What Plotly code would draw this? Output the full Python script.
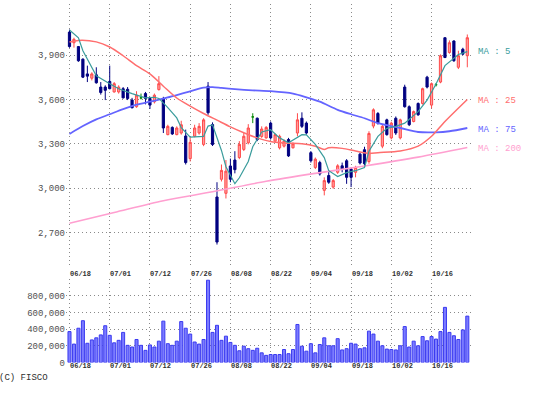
import plotly.graph_objects as go

W, H = 539, 398

# ---------------- data ----------------
tick_idx = [0, 9, 18, 27, 36, 45, 54, 63, 72, 81]
tick_labels = ["06/18", "07/01", "07/12", "07/26", "08/08", "08/22", "09/04", "09/18", "10/02", "10/16"]

opens = [4056, 3984, 3958, 3873, 3773, 3744, 3767, 3684, 3684, 3722,
         3651, 3651, 3673, 3669, 3596, 3551, 3611, 3640, 3607, 3584,
         3667, 3607, 3362, 3411, 3362, 3373, 3353, 3200, 3351, 3373,
         3296, 3690, 3430, 2940, 3060, 2965, 3150, 3190, 3207, 3262,
         3307, 3482, 3473, 3350, 3340, 3440, 3318, 3273, 3284, 3329,
         3273, 3373, 3473, 3440, 3240, 3140, 3173, 2985, 3085, 3007,
         3107, 3151, 3185, 3129, 3107, 3230, 3260, 3180, 3420, 3505,
         3284, 3462, 3340, 3473, 3340, 3684, 3551, 3451, 3573, 3573,
         3751, 3562, 3700, 3718, 4018, 3918, 3996, 3818, 3940, 3896]
highs = [4073, 4018, 3962, 3878, 3829, 3784, 3818, 3718, 3696, 3829,
         3718, 3696, 3684, 3684, 3611, 3656, 3640, 3651, 3618, 3640,
         3758, 3618, 3429, 3418, 3418, 3456, 3396, 3345, 3429, 3440,
         3473, 3718, 3445, 3040, 3160, 3190, 3200, 3250, 3318, 3373,
         3433, 3507, 3478, 3418, 3420, 3451, 3370, 3362, 3330, 3340,
         3310, 3507, 3513, 3451, 3251, 3207, 3185, 3073, 3113, 3062,
         3162, 3173, 3196, 3140, 3151, 3240, 3280, 3385, 3540, 3515,
         3430, 3470, 3450, 3485, 3470, 3700, 3560, 3525, 3580, 3680,
         3760, 3715, 3712, 3905, 4020, 4000, 4000, 3930, 3950, 4040]
lows = [3950, 3951, 3855, 3745, 3718, 3729, 3707, 3633, 3596, 3669,
        3647, 3640, 3607, 3596, 3540, 3544, 3600, 3567, 3536, 3573,
        3660, 3373, 3358, 3360, 3358, 3362, 3160, 3180, 3344, 3362,
        3284, 3496, 3285, 2618, 3045, 2930, 3040, 3100, 3196, 3251,
        3296, 3440, 3318, 3340, 3335, 3329, 3310, 3262, 3275, 3211,
        3268, 3351, 3407, 3362, 3173, 3129, 3085, 2951, 3029, 2996,
        3096, 3107, 3029, 3007, 3073, 3160, 3150, 3165, 3405, 3430,
        3270, 3355, 3330, 3360, 3330, 3545, 3420, 3445, 3490, 3565,
        3675, 3540, 3688, 3710, 3880, 3910, 3855, 3806, 3900, 3818]
closes = [3958, 4007, 3862, 3751, 3758, 3773, 3713, 3647, 3662, 3673,
          3707, 3684, 3611, 3607, 3544, 3629, 3611, 3607, 3562, 3629,
          3707, 3407, 3418, 3367, 3407, 3429, 3173, 3310, 3407, 3418,
          3462, 3510, 3295, 2635, 3120, 3115, 3060, 3125, 3296, 3351,
          3407, 3482, 3329, 3400, 3411, 3340, 3362, 3351, 3318, 3218,
          3300, 3462, 3418, 3373, 3185, 3196, 3096, 3051, 3040, 3051,
          3151, 3129, 3073, 3073, 3140, 3170, 3165, 3370, 3530, 3440,
          3418, 3362, 3440, 3373, 3462, 3551, 3429, 3518, 3496, 3673,
          3684, 3707, 3700, 3896, 3884, 3984, 3862, 3896, 3907, 4018]
volume = [370, 220, 410, 500, 230, 270, 295, 330, 440,
          325, 235, 265, 360, 205, 185, 275, 205, 145,
          210, 185, 255, 495, 225, 205, 255, 490, 410,
          340, 245, 220, 275, 985, 360, 445, 265, 315,
          240, 205, 140, 195, 165, 145, 170, 115, 85,
          95, 95, 95, 155, 105, 155, 455, 195, 135,
          225, 115, 215, 295, 200, 200, 285, 150, 165,
          230, 220, 165, 175, 375, 340, 255, 200, 160,
          155, 150, 200, 430, 185, 255, 200, 310, 260,
          310, 280, 370, 660, 360, 320, 275, 390, 555]
volume = [v * 1000 for v in volume]

ma5_idx = [0, 2, 3, 5, 6, 9, 11, 14, 17, 19, 20, 22, 24, 25, 27, 30, 31, 32, 34, 35, 37, 38, 40, 41,
           43, 45, 47, 49, 52, 53, 55, 57, 58, 60, 62, 64, 66, 67, 69, 71, 73, 75, 78, 80, 82, 84, 87, 89]
ma5_val = [4070, 4018, 3930, 3818, 3760, 3707, 3673, 3640, 3611, 3615, 3607, 3545, 3475, 3410, 3345, 3350,
           3420, 3428, 3255, 3145, 3030, 3070, 3180, 3280, 3380, 3395, 3340, 3307, 3362, 3360, 3296, 3207,
           3118, 3078, 3105, 3118, 3140, 3250, 3350, 3405, 3418, 3440, 3518, 3596, 3705, 3829, 3905, 3924]
ma25_idx = [0, 2, 6, 9, 12, 15, 18, 21, 24, 27, 30, 33, 36, 39, 42, 45, 48, 52, 55, 57, 58, 61, 64, 67,
            69, 74, 78, 81, 84, 89]
ma25_val = [3989, 4000, 3990, 3955, 3896, 3829, 3773, 3690, 3610, 3555, 3505, 3460, 3415, 3375, 3340,
            3315, 3305, 3300, 3284, 3262, 3273, 3269, 3251, 3235, 3240, 3251, 3284, 3351, 3451, 3600]
ma75_idx = [0, 3, 6, 9, 12, 15, 18, 21, 24, 27, 30, 32, 34, 37, 41, 45, 50, 53, 56, 60, 63, 66, 69, 74,
            78, 82, 85, 89]
ma75_val = [3367, 3420, 3465, 3500, 3535, 3565, 3585, 3605, 3630, 3655, 3680, 3683, 3678, 3670, 3662,
            3656, 3640, 3615, 3585, 3530, 3500, 3473, 3440, 3407, 3380, 3378, 3385, 3407]
ma200_idx = [0, 10, 21, 32, 44, 55, 66, 78, 89]
ma200_val = [2762, 2835, 2915, 2975, 3046, 3100, 3150, 3210, 3275]

ma_names = ["MA : 5", "MA : 25", "MA : 75", "MA : 200"]

# ---------------- style ----------------
NAVY = "#000080"
RED_LINE = "#ff4a4a"
RED_FILL = "#ff9c9c"
GREEN = "#0a8a0a"
C5, C25, C75, C200 = "#3a9c9c", "#ff6e6e", "#6464ff", "#ff9fd0"
GRID = "#8a8a8a"
MONO = "Liberation Mono, DejaVu Sans Mono, monospace"


def py(px):
    return (H - px) / H


x_dom = [66 / W, 472 / W]
x_rng = [-0.78, 90.05]

fig = go.Figure()

# moving averages underneath the candles
fig.add_trace(go.Scatter(x=ma200_idx, y=ma200_val, mode="lines",
                         line=dict(color=C200, width=1.6, shape="spline", smoothing=0.8),
                         xaxis="x", yaxis="y", hoverinfo="skip"))
fig.add_trace(go.Scatter(x=ma75_idx, y=ma75_val, mode="lines",
                         line=dict(color=C75, width=1.8, shape="spline", smoothing=0.8),
                         xaxis="x", yaxis="y", hoverinfo="skip"))
fig.add_trace(go.Scatter(x=ma25_idx, y=ma25_val, mode="lines",
                         line=dict(color=C25, width=1.5, shape="spline", smoothing=0.8),
                         xaxis="x", yaxis="y", hoverinfo="skip"))

idx = list(range(len(opens)))
reg = [i for i in idx if opens[i] != closes[i]]
doji = [i for i in idx if opens[i] == closes[i]]

fig.add_trace(go.Candlestick(
    x=reg, open=[opens[i] for i in reg], high=[highs[i] for i in reg],
    low=[lows[i] for i in reg], close=[closes[i] for i in reg],
    increasing=dict(line=dict(color=RED_LINE, width=1), fillcolor=RED_FILL),
    decreasing=dict(line=dict(color=NAVY, width=1), fillcolor=NAVY),
    whiskerwidth=0, xaxis="x", yaxis="y", hoverinfo="skip"))
fig.add_trace(go.Candlestick(
    x=doji, open=[opens[i] for i in doji], high=[highs[i] for i in doji],
    low=[lows[i] for i in doji], close=[closes[i] for i in doji],
    increasing=dict(line=dict(color=GREEN, width=1), fillcolor=GREEN),
    decreasing=dict(line=dict(color=GREEN, width=1), fillcolor=GREEN),
    whiskerwidth=0, xaxis="x", yaxis="y", hoverinfo="skip"))

fig.add_trace(go.Scatter(x=ma5_idx, y=ma5_val, mode="lines",
                         line=dict(color=C5, width=1.2),
                         xaxis="x", yaxis="y", hoverinfo="skip"))

fig.add_trace(go.Bar(x=idx, y=volume, width=0.68,
                     marker=dict(color="#7b7bff", line=dict(color="#3a3af0", width=1)),
                     xaxis="x2", yaxis="y2", hoverinfo="skip"))

axis_common = dict(showgrid=True, gridcolor=GRID, griddash="1px,3px", gridwidth=1,
                   zeroline=False, showline=False, ticks="")

fig.update_layout(
    width=W, height=H, margin=dict(l=0, r=0, t=0, b=0),
    paper_bgcolor="white", plot_bgcolor="white", showlegend=False,
    xaxis=dict(domain=x_dom, range=x_rng, tickvals=tick_idx, showticklabels=False,
               rangeslider=dict(visible=False), anchor="y", **axis_common),
    yaxis=dict(domain=[py(271), py(4)], range=[2466.7, 4246.7],
               tickvals=[2700, 3000, 3300, 3600, 3900], tickformat=",",
               tickfont=dict(family=MONO, size=9, color="#505050"), anchor="x",
               **axis_common),
    xaxis2=dict(domain=x_dom, range=x_rng, tickvals=tick_idx, showticklabels=False,
                rangeslider=dict(visible=False), anchor="y2", **axis_common),
    yaxis2=dict(domain=[py(368), py(283)], range=[0, 1003000],
                tickvals=[0, 200000, 400000, 600000, 800000], tickformat=",",
                tickfont=dict(family=MONO, size=9, color="#505050"), anchor="x2",
                **axis_common),
    bargap=0.3,
)

ann = []
for ti, tl in zip(tick_idx, tick_labels):
    for ypx in (278, 372):
        ann.append(dict(x=ti - 0.35, y=py(ypx), xref="x", yref="paper", text=tl,
                        showarrow=False, xanchor="left", yanchor="middle",
                        font=dict(family=MONO, size=7, color="#303030", weight="bold")))
for name, col, ypx in zip(ma_names, [C5, C25, C75, C200], [53, 103, 132, 151]):
    ann.append(dict(x=476 / W, y=py(ypx), xref="paper", yref="paper", text=name,
                    showarrow=False, xanchor="left", yanchor="middle",
                    font=dict(family=MONO, size=9, color=col)))
ann.append(dict(x=-3 / W, y=py(384), xref="paper", yref="paper", text="(C) FISCO",
                showarrow=False, xanchor="left", yanchor="middle",
                font=dict(family=MONO, size=9, color="#303030")))
fig.update_layout(annotations=ann)

fig.write_html("out.html", config={"displayModeBar": False},
               post_script="document.body.style.margin='0';")
